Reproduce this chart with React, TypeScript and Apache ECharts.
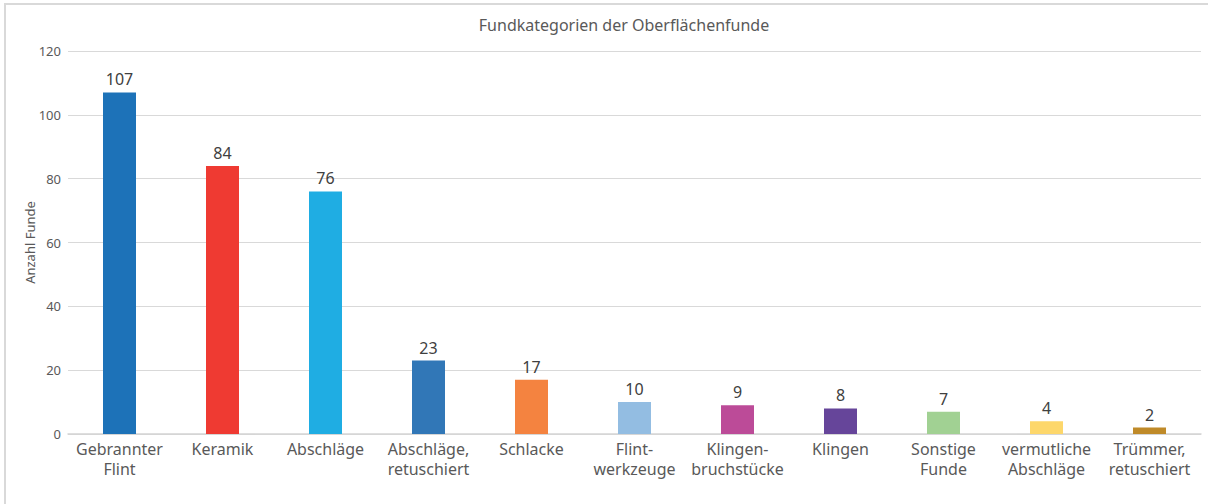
import React, { useEffect, useRef } from "react";
import * as echarts from "echarts";

const categories = [
  "Gebrannter\nFlint",
  "Keramik",
  "Abschläge",
  "Abschläge,\nretuschiert",
  "Schlacke",
  "Flint-\nwerkzeuge",
  "Klingen-\nbruchstücke",
  "Klingen",
  "Sonstige\nFunde",
  "vermutliche\nAbschläge",
  "Trümmer,\nretuschiert",
];
const counts = [107, 84, 76, 23, 17, 10, 9, 8, 7, 4, 2];
const barColors = [
  "#1d72b8",
  "#ef3a32",
  "#1fade3",
  "#3177b7",
  "#f48340",
  "#93bde2",
  "#bc4b98",
  "#66459a",
  "#a1d193",
  "#fdd76b",
  "#bf8a29",
];
const titleText = "Fundkategorien der Oberflächenfunde";
const yAxisName = "Anzahl Funde";

const FONT = "'Noto Sans', 'Open Sans', sans-serif";

export default function App() {
  const ref = useRef<HTMLDivElement>(null);
  useEffect(() => {
    document.body.style.margin = "0";
    const chart = echarts.init(ref.current!, null, { renderer: "svg" });
    chart.setOption({
      animation: false,
      backgroundColor: "#ffffff",
      textStyle: { fontFamily: FONT },
      title: {
        text: titleText,
        left: 619,
        top: 12,
        textAlign: "center",
        textStyle: { fontSize: 16, fontWeight: "normal", color: "#595959", fontFamily: FONT },
      },
      graphic: [
        {
          type: "rect",
          shape: { x: 5, y: 4, width: 1300, height: 600 },
          style: { fill: "none", stroke: "#d9d9d9", lineWidth: 2 },
          silent: true,
          z: -1,
        },
      ],
      grid: { left: 68, right: 7, top: 51, bottom: 70, containLabel: false },
      xAxis: {
        type: "category",
        data: categories,
        axisTick: { show: false },
        axisLine: { lineStyle: { color: "#d4d4d4", width: 1.5 } },
        axisLabel: {
          color: "#595959",
          fontSize: 16,
          fontFamily: FONT,
          margin: 5,
          lineHeight: 20,
          interval: 0,
        },
      },
      yAxis: {
        type: "value",
        min: 0,
        max: 120,
        interval: 20,
        name: yAxisName,
        nameLocation: "middle",
        nameGap: 32,
        nameMoveOverlap: false,
        nameTextStyle: { color: "#595959", fontSize: 13, fontFamily: FONT },
        axisLabel: { color: "#595959", fontSize: 13, fontFamily: FONT, margin: 7 },
        splitLine: { lineStyle: { color: "#d9d9d9", width: 1 } },
        axisLine: { show: false },
        axisTick: { show: false },
      },
      series: [
        {
          type: "bar",
          data: counts.map((v, i) => ({ value: v, itemStyle: { color: barColors[i] } })),
          barWidth: 33,
          label: {
            show: true,
            position: "top",
            distance: 5,
            color: "#404040",
            fontSize: 16,
            fontFamily: FONT,
          },
        },
      ],
    });
    return () => chart.dispose();
  }, []);
  return <div ref={ref} style={{ width: 1208, height: 504 }} />;
}
